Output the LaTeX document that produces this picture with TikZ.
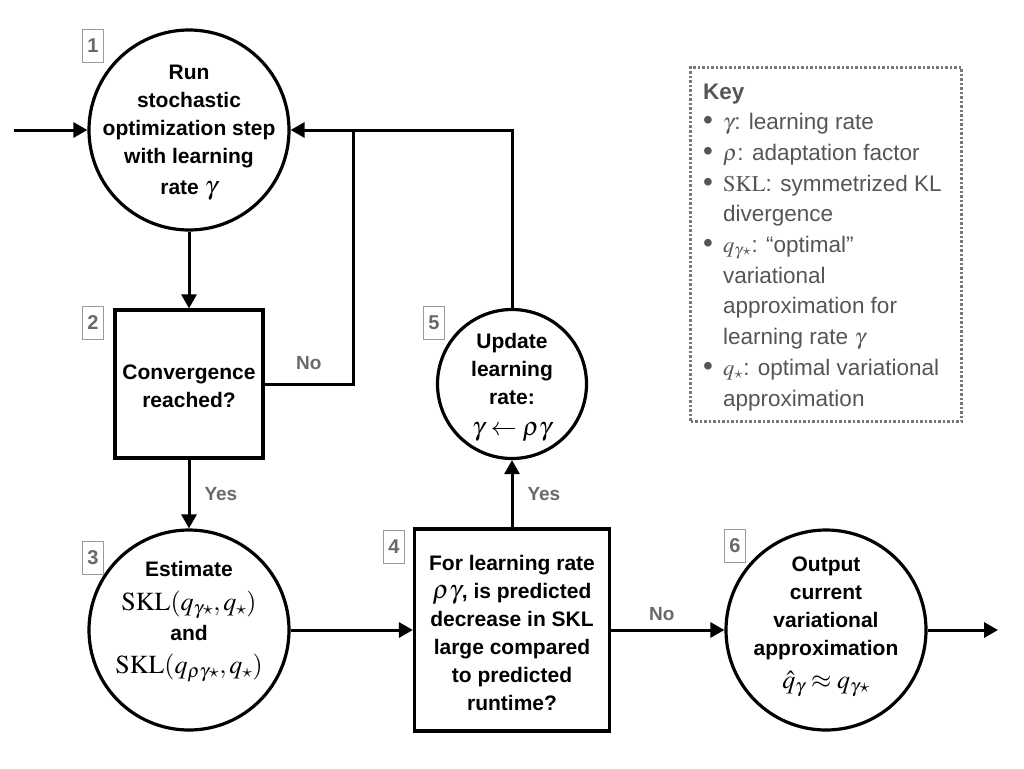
\documentclass[tikz,border=0pt]{standalone}
\usepackage{mathptmx}
\usepackage[no-math]{fontspec}
\setmainfont{Liberation Sans}
\usetikzlibrary{arrows.meta}
\definecolor{lblgray}{RGB}{105,105,105}
\definecolor{boxgray}{RGB}{155,155,155}
\definecolor{keygray}{RGB}{85,85,85}
\definecolor{dotgray}{RGB}{120,120,120}
\newcommand\mth[1]{{\fontsize{26}{28}\selectfont$#1$}}
\newcommand\kb{\makebox[20pt][l]{{\fontsize{28}{28}\selectfont\textbullet}}}
\tikzset{
  circ/.style={circle, draw, line width=3.2pt, inner sep=0pt},
  sq/.style={rectangle, draw, line width=3.2pt, inner sep=0pt},
  maintext/.style={font=\fontsize{21}{28}\selectfont\bfseries, align=center, inner sep=0pt},
  numbox/.style={draw=boxgray, line width=1pt, text=lblgray, minimum width=21pt, minimum height=33pt, inner sep=0pt, font=\fontsize{20}{22}\selectfont\bfseries},
  lbl/.style={text=lblgray, inner sep=0pt, font=\fontsize{19}{21}\selectfont\bfseries},
  conn/.style={line width=3pt},
  arr/.style={line width=3pt, -{Triangle[length=14pt,width=15pt]}},
  keybox/.style={draw=dotgray, line width=3pt, dash pattern=on 2.5pt off 2pt, minimum width=271pt, minimum height=354pt, inner sep=0pt},
  keytext/.style={text=keygray, anchor=base west, inner sep=0pt, font=\fontsize{22.5}{26}\selectfont}
}
\begin{document}
\begin{tikzpicture}[x=1pt,y=-1pt]
\useasboundingbox (0,0) rectangle (1024,768);

% main shapes
\node[circ, minimum size=200pt] (n1) at (189,130) {};
\node[maintext] (t1) at (189,133) {Run\\stochastic\\optimization step\\with learning\\[3pt]rate \mth{\gamma}};

\node[sq, minimum width=148pt, minimum height=148pt] (n2) at (189,384) {};
\node[maintext] (t2) at (189,386) {Convergence\\reached?};

\node[circ, minimum size=200pt] (n3) at (189,630) {};
\node[maintext] (t3) at (189,622) {Estimate\\[6pt]\mth{\mathrm{SKL}(q_{\gamma\star},q_\star)}\\[2pt]and\\[5pt]\mth{\mathrm{SKL}(q_{\rho\gamma\star},q_\star)}};

\node[sq, minimum width=195pt, minimum height=202pt] (n4) at (512,630) {};
\node[maintext] (t4) at (512,633) {For learning rate\\\mth{\rho\gamma}, is predicted\\decrease in SKL\\large compared\\to predicted\\runtime?};

\node[circ, minimum size=149pt] (n5) at (512,384) {};
\node[maintext] (t5) at (512,387) {Update\\learning\\rate:\\[3pt]\mth{\gamma\leftarrow\rho\gamma}};

\node[circ, minimum size=200pt] (n6) at (826,630) {};
\node[maintext] (t6) at (826,627) {Output\\current\\variational\\approximation\\[5pt]\mth{\hat{q}_\gamma\approx q_{\gamma\star}}};

% number boxes
\node[numbox] (b1) at (93,46) {1};
\node[numbox] (b2) at (93,323) {2};
\node[numbox] (b3) at (93,558) {3};
\node[numbox] (b4) at (394,547) {4};
\node[numbox] (b5) at (434,323) {5};
\node[numbox] (b6) at (735,546) {6};

% connectors
\coordinate (in) at (14,130);
\coordinate (out) at (998,630);
\coordinate (j) at (353,130);
\draw[arr] (in) -- (n1.west);
\draw[arr] (n1.south) -- (n2.north);
\draw[conn] (n2.east) -| node[lbl, pos=0.25, above=13pt] (lno1) {No} (j);
\draw[arr] (n5.north) |- (n1.east);
\draw[arr] (n2.south) -- node[lbl, midway, right=14pt] (lyes1) {Yes} (n3.north);
\draw[arr] (n3.east) -- (n4.west);
\draw[arr] (n4.north) -- node[lbl, midway, right=14pt] (lyes2) {Yes} (n5.south);
\draw[arr] (n4.east) -- node[lbl, midway, above=8pt, xshift=-6pt] (lno2) {No} (n6.west);
\draw[arr] (n6.east) -- (out);

% key
\node[keybox] (key) at (826,244.5) {};
\node[keytext, font=\fontsize{22.5}{26}\selectfont\bfseries] (k0) at (703,99) {Key};
\node[keytext] (k1) at (703,129.7) {\kb$\gamma$: learning rate};
\node[keytext] (k2) at (703,160.4) {\kb$\rho$: adaptation factor};
\node[keytext] (k3) at (703,191.1) {\kb$\mathrm{SKL}$: symmetrized KL};
\node[keytext] (k4) at (723,221.8) {divergence};
\node[keytext] (k5) at (703,252.5) {\kb$q_{\gamma\star}$: “optimal”};
\node[keytext] (k6) at (723,283.2) {variational};
\node[keytext] (k7) at (723,313.9) {approximation for};
\node[keytext] (k8) at (723,344.6) {learning rate $\gamma$};
\node[keytext] (k9) at (703,375.3) {\kb$q_\star$: optimal variational};
\node[keytext] (k10) at (723,406) {approximation};
\end{tikzpicture}
\end{document}
